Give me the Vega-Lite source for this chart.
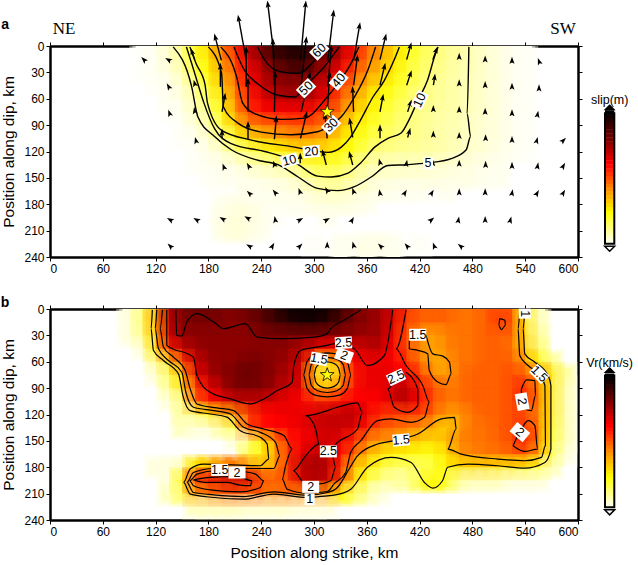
{"$schema":"https://vega.github.io/schema/vega-lite/v6.json","background":"white","padding":{"left":0,"top":0,"right":0,"bottom":0},"bounds":"flush","columns":2,"spacing":{"row":52,"column":27},"resolve":{"scale":{"color":"independent"}},"config":{"font":"Liberation Sans","view":{"stroke":null},"axis":{"labelFont":"Liberation Sans","titleFont":"Liberation Sans","labelFontSize":12,"titleFontSize":15.5,"titleFontWeight":"normal","labelColor":"#000","titleColor":"#000","tickColor":"#000","domainColor":"#000","grid":false,"tickSize":4,"tickWidth":1,"domainWidth":2.5,"labelPadding":2,"zindex":1}},
"datasets":{
"slip":[
{"x":105,"y":0,"v":0.3},{"x":120,"y":0,"v":1},{"x":135,"y":0,"v":3},{"x":150,"y":0,"v":7},{"x":165,"y":0,"v":14},{"x":180,"y":0,"v":20},{"x":195,"y":0,"v":30},{"x":210,"y":0,"v":38},{"x":225,"y":0,"v":46},{"x":240,"y":0,"v":55},{"x":255,"y":0,"v":62},{"x":270,"y":0,"v":66},{"x":285,"y":0,"v":66},{"x":300,"y":0,"v":64},{"x":315,"y":0,"v":58},{"x":330,"y":0,"v":50},{"x":345,"y":0,"v":42},{"x":360,"y":0,"v":33},{"x":375,"y":0,"v":27},{"x":390,"y":0,"v":21},{"x":405,"y":0,"v":15},{"x":420,"y":0,"v":12},{"x":435,"y":0,"v":9},{"x":450,"y":0,"v":7},{"x":465,"y":0,"v":6},{"x":480,"y":0,"v":4.5},{"x":495,"y":0,"v":3},{"x":510,"y":0,"v":2},{"x":525,"y":0,"v":1},{"x":540,"y":0,"v":0.5},
{"x":105,"y":15,"v":0.3},{"x":120,"y":15,"v":1},{"x":135,"y":15,"v":3},{"x":150,"y":15,"v":6},{"x":165,"y":15,"v":13},{"x":180,"y":15,"v":18},{"x":195,"y":15,"v":27},{"x":210,"y":15,"v":35},{"x":225,"y":15,"v":43},{"x":240,"y":15,"v":52},{"x":255,"y":15,"v":58},{"x":270,"y":15,"v":62},{"x":285,"y":15,"v":62},{"x":300,"y":15,"v":58},{"x":315,"y":15,"v":52},{"x":330,"y":15,"v":47},{"x":345,"y":15,"v":39},{"x":360,"y":15,"v":31},{"x":375,"y":15,"v":26},{"x":390,"y":15,"v":20},{"x":405,"y":15,"v":15},{"x":420,"y":15,"v":11},{"x":435,"y":15,"v":9},{"x":450,"y":15,"v":7},{"x":465,"y":15,"v":5.5},{"x":480,"y":15,"v":4.5},{"x":495,"y":15,"v":3},{"x":510,"y":15,"v":2},{"x":525,"y":15,"v":1},{"x":540,"y":15,"v":0.5},
{"x":105,"y":30,"v":0.3},{"x":120,"y":30,"v":1},{"x":135,"y":30,"v":2},{"x":150,"y":30,"v":5},{"x":165,"y":30,"v":11},{"x":180,"y":30,"v":16},{"x":195,"y":30,"v":24},{"x":210,"y":30,"v":32},{"x":225,"y":30,"v":41},{"x":240,"y":30,"v":47},{"x":255,"y":30,"v":53},{"x":270,"y":30,"v":57},{"x":285,"y":30,"v":59},{"x":300,"y":30,"v":54},{"x":315,"y":30,"v":49},{"x":330,"y":30,"v":42},{"x":345,"y":30,"v":35},{"x":360,"y":30,"v":28},{"x":375,"y":30,"v":23},{"x":390,"y":30,"v":18},{"x":405,"y":30,"v":13},{"x":420,"y":30,"v":10},{"x":435,"y":30,"v":8},{"x":450,"y":30,"v":6.5},{"x":465,"y":30,"v":5},{"x":480,"y":30,"v":4.5},{"x":495,"y":30,"v":3},{"x":510,"y":30,"v":2},{"x":525,"y":30,"v":1},{"x":540,"y":30,"v":0.5},
{"x":120,"y":45,"v":0.5},{"x":135,"y":45,"v":1},{"x":150,"y":45,"v":3},{"x":165,"y":45,"v":7},{"x":180,"y":45,"v":13},{"x":195,"y":45,"v":21},{"x":210,"y":45,"v":30},{"x":225,"y":45,"v":40},{"x":240,"y":45,"v":46},{"x":255,"y":45,"v":50},{"x":270,"y":45,"v":52},{"x":285,"y":45,"v":50},{"x":300,"y":45,"v":49},{"x":315,"y":45,"v":44},{"x":330,"y":45,"v":37},{"x":345,"y":45,"v":30},{"x":360,"y":45,"v":24},{"x":375,"y":45,"v":19},{"x":390,"y":45,"v":15},{"x":405,"y":45,"v":12},{"x":420,"y":45,"v":9},{"x":435,"y":45,"v":7},{"x":450,"y":45,"v":6},{"x":465,"y":45,"v":5},{"x":480,"y":45,"v":4},{"x":495,"y":45,"v":3},{"x":510,"y":45,"v":2},{"x":525,"y":45,"v":1},{"x":540,"y":45,"v":0.5},
{"x":135,"y":60,"v":1},{"x":150,"y":60,"v":2},{"x":165,"y":60,"v":5},{"x":180,"y":60,"v":10},{"x":195,"y":60,"v":18},{"x":210,"y":60,"v":28},{"x":225,"y":60,"v":37},{"x":240,"y":60,"v":43},{"x":255,"y":60,"v":48},{"x":270,"y":60,"v":50},{"x":285,"y":60,"v":50},{"x":300,"y":60,"v":48},{"x":315,"y":60,"v":42},{"x":330,"y":60,"v":33},{"x":345,"y":60,"v":27},{"x":360,"y":60,"v":20},{"x":375,"y":60,"v":16},{"x":390,"y":60,"v":13},{"x":405,"y":60,"v":10},{"x":420,"y":60,"v":8},{"x":435,"y":60,"v":7},{"x":450,"y":60,"v":6},{"x":465,"y":60,"v":5},{"x":480,"y":60,"v":4},{"x":495,"y":60,"v":3},{"x":510,"y":60,"v":2},{"x":525,"y":60,"v":1},{"x":540,"y":60,"v":0.5},
{"x":135,"y":75,"v":0.5},{"x":150,"y":75,"v":1},{"x":165,"y":75,"v":4},{"x":180,"y":75,"v":7},{"x":195,"y":75,"v":15},{"x":210,"y":75,"v":25},{"x":225,"y":75,"v":36},{"x":240,"y":75,"v":40},{"x":255,"y":75,"v":41},{"x":270,"y":75,"v":41},{"x":285,"y":75,"v":41},{"x":300,"y":75,"v":39},{"x":315,"y":75,"v":37},{"x":330,"y":75,"v":30},{"x":345,"y":75,"v":23},{"x":360,"y":75,"v":18},{"x":375,"y":75,"v":14},{"x":390,"y":75,"v":11},{"x":405,"y":75,"v":9},{"x":420,"y":75,"v":7.5},{"x":435,"y":75,"v":6.5},{"x":450,"y":75,"v":5.5},{"x":465,"y":75,"v":5},{"x":480,"y":75,"v":4},{"x":495,"y":75,"v":3},{"x":510,"y":75,"v":2},{"x":525,"y":75,"v":1},{"x":540,"y":75,"v":0.5},
{"x":150,"y":90,"v":0.5},{"x":165,"y":90,"v":3},{"x":180,"y":90,"v":5},{"x":195,"y":90,"v":12},{"x":210,"y":90,"v":21},{"x":225,"y":90,"v":28},{"x":240,"y":90,"v":31},{"x":255,"y":90,"v":32},{"x":270,"y":90,"v":33},{"x":285,"y":90,"v":34},{"x":300,"y":90,"v":33},{"x":315,"y":90,"v":30},{"x":330,"y":90,"v":25},{"x":345,"y":90,"v":19},{"x":360,"y":90,"v":15},{"x":375,"y":90,"v":12},{"x":390,"y":90,"v":10},{"x":405,"y":90,"v":8},{"x":420,"y":90,"v":7},{"x":435,"y":90,"v":6},{"x":450,"y":90,"v":5},{"x":465,"y":90,"v":4.5},{"x":480,"y":90,"v":3.5},{"x":495,"y":90,"v":2.5},{"x":510,"y":90,"v":2},{"x":525,"y":90,"v":1},{"x":540,"y":90,"v":0.5},
{"x":150,"y":105,"v":0.5},{"x":165,"y":105,"v":1},{"x":180,"y":105,"v":3},{"x":195,"y":105,"v":7},{"x":210,"y":105,"v":13},{"x":225,"y":105,"v":20},{"x":240,"y":105,"v":23},{"x":255,"y":105,"v":25},{"x":270,"y":105,"v":27},{"x":285,"y":105,"v":28},{"x":300,"y":105,"v":27},{"x":315,"y":105,"v":25},{"x":330,"y":105,"v":20},{"x":345,"y":105,"v":16},{"x":360,"y":105,"v":13},{"x":375,"y":105,"v":10},{"x":390,"y":105,"v":9},{"x":405,"y":105,"v":8},{"x":420,"y":105,"v":7},{"x":435,"y":105,"v":6},{"x":450,"y":105,"v":5},{"x":465,"y":105,"v":4.5},{"x":480,"y":105,"v":3.5},{"x":495,"y":105,"v":2.5},{"x":510,"y":105,"v":2},{"x":525,"y":105,"v":1},{"x":540,"y":105,"v":0.5},
{"x":165,"y":120,"v":0.5},{"x":180,"y":120,"v":1.5},{"x":195,"y":120,"v":3},{"x":210,"y":120,"v":7},{"x":225,"y":120,"v":10},{"x":240,"y":120,"v":13},{"x":255,"y":120,"v":16},{"x":270,"y":120,"v":18},{"x":285,"y":120,"v":20},{"x":300,"y":120,"v":20},{"x":315,"y":120,"v":19},{"x":330,"y":120,"v":17},{"x":345,"y":120,"v":14},{"x":360,"y":120,"v":10},{"x":375,"y":120,"v":8},{"x":390,"y":120,"v":7},{"x":405,"y":120,"v":6.5},{"x":420,"y":120,"v":6},{"x":435,"y":120,"v":5.5},{"x":450,"y":120,"v":5},{"x":465,"y":120,"v":4},{"x":480,"y":120,"v":3},{"x":495,"y":120,"v":2.5},{"x":510,"y":120,"v":1.5},{"x":525,"y":120,"v":1},{"x":540,"y":120,"v":0.5},
{"x":165,"y":135,"v":0.5},{"x":180,"y":135,"v":1},{"x":195,"y":135,"v":1.5},{"x":210,"y":135,"v":2},{"x":225,"y":135,"v":4},{"x":240,"y":135,"v":5},{"x":255,"y":135,"v":6},{"x":270,"y":135,"v":8},{"x":285,"y":135,"v":10},{"x":300,"y":135,"v":13},{"x":315,"y":135,"v":13},{"x":330,"y":135,"v":12},{"x":345,"y":135,"v":9},{"x":360,"y":135,"v":6},{"x":375,"y":135,"v":4.5},{"x":390,"y":135,"v":4},{"x":405,"y":135,"v":4},{"x":420,"y":135,"v":4},{"x":435,"y":135,"v":4},{"x":450,"y":135,"v":3},{"x":465,"y":135,"v":2.5},{"x":480,"y":135,"v":2},{"x":495,"y":135,"v":1.5},{"x":510,"y":135,"v":1},
{"x":180,"y":150,"v":0.5},{"x":195,"y":150,"v":1},{"x":210,"y":150,"v":1},{"x":225,"y":150,"v":1.5},{"x":240,"y":150,"v":2},{"x":255,"y":150,"v":2.5},{"x":270,"y":150,"v":3},{"x":285,"y":150,"v":5},{"x":300,"y":150,"v":7},{"x":315,"y":150,"v":9},{"x":330,"y":150,"v":8},{"x":345,"y":150,"v":6},{"x":360,"y":150,"v":4},{"x":375,"y":150,"v":3},{"x":390,"y":150,"v":3},{"x":405,"y":150,"v":2.5},{"x":420,"y":150,"v":2.5},{"x":435,"y":150,"v":2},{"x":450,"y":150,"v":2},{"x":465,"y":150,"v":1.5},{"x":480,"y":150,"v":1.5},{"x":495,"y":150,"v":1},{"x":510,"y":150,"v":1},
{"x":225,"y":165,"v":1},{"x":240,"y":165,"v":1},{"x":255,"y":165,"v":1.5},{"x":270,"y":165,"v":1.5},{"x":285,"y":165,"v":2.5},{"x":300,"y":165,"v":4},{"x":315,"y":165,"v":5},{"x":330,"y":165,"v":5},{"x":345,"y":165,"v":4},{"x":360,"y":165,"v":2.5},{"x":375,"y":165,"v":1.5},{"x":390,"y":165,"v":1},{"x":405,"y":165,"v":1},{"x":420,"y":165,"v":1},{"x":450,"y":165,"v":1},
{"x":195,"y":180,"v":1},{"x":210,"y":180,"v":1.5},{"x":225,"y":180,"v":1.5},{"x":240,"y":180,"v":1},{"x":255,"y":180,"v":1},{"x":270,"y":180,"v":1},{"x":285,"y":180,"v":1},{"x":300,"y":180,"v":1.5},{"x":315,"y":180,"v":2},{"x":330,"y":180,"v":2},{"x":345,"y":180,"v":1.5},{"x":360,"y":180,"v":1},
{"x":195,"y":195,"v":1.5},{"x":210,"y":195,"v":2.5},{"x":225,"y":195,"v":2.5},{"x":240,"y":195,"v":1.5},{"x":255,"y":195,"v":0.5},{"x":315,"y":195,"v":1},
{"x":195,"y":210,"v":1.5},{"x":210,"y":210,"v":2.5},{"x":225,"y":210,"v":2},{"x":240,"y":210,"v":1},{"x":300,"y":225,"v":0.5},{"x":330,"y":225,"v":1},{"x":345,"y":225,"v":1},{"x":360,"y":225,"v":1.5},{"x":375,"y":225,"v":1.5},{"x":390,"y":225,"v":1},{"x":420,"y":225,"v":0.5},{"x":330,"y":240,"v":1},{"x":360,"y":240,"v":1.5},{"x":390,"y":240,"v":1}
],
"vr":[
{"x":90,"y":0,"v":0.1},{"x":105,"y":0,"v":0.4},{"x":120,"y":0,"v":1.3},{"x":135,"y":0,"v":2.7},{"x":150,"y":0,"v":3},{"x":165,"y":0,"v":3.1},{"x":180,"y":0,"v":3.1},{"x":195,"y":0,"v":3},{"x":210,"y":0,"v":3},{"x":225,"y":0,"v":3.1},{"x":240,"y":0,"v":3.2},{"x":255,"y":0,"v":3.4},{"x":270,"y":0,"v":3.6},{"x":285,"y":0,"v":3.7},{"x":300,"y":0,"v":3.7},{"x":315,"y":0,"v":3.7},{"x":330,"y":0,"v":3.4},{"x":345,"y":0,"v":3.1},{"x":360,"y":0,"v":2.9},{"x":375,"y":0,"v":2.8},{"x":390,"y":0,"v":2.5},{"x":405,"y":0,"v":2.1},{"x":420,"y":0,"v":1.8},{"x":435,"y":0,"v":1.8},{"x":450,"y":0,"v":1.8},{"x":465,"y":0,"v":1.7},{"x":480,"y":0,"v":1.7},{"x":495,"y":0,"v":1.8},{"x":510,"y":0,"v":1.9},{"x":525,"y":0,"v":1.8},{"x":540,"y":0,"v":1},{"x":555,"y":0,"v":0.2},
{"x":90,"y":15,"v":0.1},{"x":105,"y":15,"v":0.5},{"x":120,"y":15,"v":1.3},{"x":135,"y":15,"v":2.6},{"x":150,"y":15,"v":2.9},{"x":165,"y":15,"v":3},{"x":180,"y":15,"v":3},{"x":195,"y":15,"v":3},{"x":210,"y":15,"v":2.9},{"x":225,"y":15,"v":3},{"x":240,"y":15,"v":3.1},{"x":255,"y":15,"v":3.3},{"x":270,"y":15,"v":3.4},{"x":285,"y":15,"v":3.5},{"x":300,"y":15,"v":3.5},{"x":315,"y":15,"v":3.4},{"x":330,"y":15,"v":3.2},{"x":345,"y":15,"v":3},{"x":360,"y":15,"v":2.9},{"x":375,"y":15,"v":2.8},{"x":390,"y":15,"v":2.5},{"x":405,"y":15,"v":2},{"x":420,"y":15,"v":1.8},{"x":435,"y":15,"v":1.8},{"x":450,"y":15,"v":1.8},{"x":465,"y":15,"v":1.7},{"x":480,"y":15,"v":1.7},{"x":495,"y":15,"v":1.8},{"x":510,"y":15,"v":2},{"x":525,"y":15,"v":1.9},{"x":540,"y":15,"v":1},{"x":555,"y":15,"v":0.2},
{"x":90,"y":30,"v":0.1},{"x":105,"y":30,"v":0.4},{"x":120,"y":30,"v":1.2},{"x":135,"y":30,"v":2.5},{"x":150,"y":30,"v":2.9},{"x":165,"y":30,"v":2.9},{"x":180,"y":30,"v":2.9},{"x":195,"y":30,"v":2.9},{"x":210,"y":30,"v":2.9},{"x":225,"y":30,"v":2.9},{"x":240,"y":30,"v":3},{"x":255,"y":30,"v":3},{"x":270,"y":30,"v":3},{"x":285,"y":30,"v":3},{"x":300,"y":30,"v":3},{"x":315,"y":30,"v":3},{"x":330,"y":30,"v":2.9},{"x":345,"y":30,"v":2.9},{"x":360,"y":30,"v":2.8},{"x":375,"y":30,"v":2.8},{"x":390,"y":30,"v":2.4},{"x":405,"y":30,"v":1.9},{"x":420,"y":30,"v":1.6},{"x":435,"y":30,"v":1.4},{"x":450,"y":30,"v":1.6},{"x":465,"y":30,"v":1.7},{"x":480,"y":30,"v":1.7},{"x":495,"y":30,"v":1.8},{"x":510,"y":30,"v":1.8},{"x":525,"y":30,"v":1.8},{"x":540,"y":30,"v":1.1},{"x":555,"y":30,"v":0.3},
{"x":105,"y":45,"v":0.1},{"x":120,"y":45,"v":1},{"x":135,"y":45,"v":2.1},{"x":150,"y":45,"v":2.6},{"x":165,"y":45,"v":2.8},{"x":180,"y":45,"v":2.9},{"x":195,"y":45,"v":2.9},{"x":210,"y":45,"v":2.9},{"x":225,"y":45,"v":2.9},{"x":240,"y":45,"v":2.9},{"x":255,"y":45,"v":2.9},{"x":270,"y":45,"v":2.9},{"x":285,"y":45,"v":2.7},{"x":300,"y":45,"v":2.5},{"x":315,"y":45,"v":2.3},{"x":330,"y":45,"v":2.4},{"x":345,"y":45,"v":2.5},{"x":360,"y":45,"v":2.6},{"x":375,"y":45,"v":2.7},{"x":390,"y":45,"v":2.3},{"x":405,"y":45,"v":1.9},{"x":420,"y":45,"v":1.6},{"x":435,"y":45,"v":1.4},{"x":450,"y":45,"v":1.6},{"x":465,"y":45,"v":1.7},{"x":480,"y":45,"v":1.7},{"x":495,"y":45,"v":1.8},{"x":510,"y":45,"v":1.8},{"x":525,"y":45,"v":1.7},{"x":540,"y":45,"v":1.2},{"x":555,"y":45,"v":0.4},
{"x":120,"y":60,"v":0.3},{"x":135,"y":60,"v":1.1},{"x":150,"y":60,"v":1.9},{"x":165,"y":60,"v":2.5},{"x":180,"y":60,"v":2.8},{"x":195,"y":60,"v":2.9},{"x":210,"y":60,"v":2.9},{"x":225,"y":60,"v":3},{"x":240,"y":60,"v":3},{"x":255,"y":60,"v":2.9},{"x":270,"y":60,"v":2.8},{"x":285,"y":60,"v":2.6},{"x":300,"y":60,"v":1.9},{"x":315,"y":60,"v":0.9},{"x":330,"y":60,"v":1.7},{"x":345,"y":60,"v":2.3},{"x":360,"y":60,"v":2.4},{"x":375,"y":60,"v":2.4},{"x":390,"y":60,"v":2.3},{"x":405,"y":60,"v":2.1},{"x":420,"y":60,"v":1.7},{"x":435,"y":60,"v":1.4},{"x":450,"y":60,"v":1.4},{"x":465,"y":60,"v":1.7},{"x":480,"y":60,"v":1.7},{"x":495,"y":60,"v":1.8},{"x":510,"y":60,"v":1.8},{"x":525,"y":60,"v":1.8},{"x":540,"y":60,"v":1.5},{"x":555,"y":60,"v":0.9},{"x":570,"y":60,"v":0.3},
{"x":120,"y":75,"v":0.1},{"x":135,"y":75,"v":0.5},{"x":150,"y":75,"v":1.1},{"x":165,"y":75,"v":2.4},{"x":180,"y":75,"v":2.7},{"x":195,"y":75,"v":2.9},{"x":210,"y":75,"v":3},{"x":225,"y":75,"v":3.1},{"x":240,"y":75,"v":3},{"x":255,"y":75,"v":2.9},{"x":270,"y":75,"v":2.7},{"x":285,"y":75,"v":2.5},{"x":300,"y":75,"v":1.2},{"x":315,"y":75,"v":0.6},{"x":330,"y":75,"v":1.2},{"x":345,"y":75,"v":2.1},{"x":360,"y":75,"v":2.4},{"x":375,"y":75,"v":2.4},{"x":390,"y":75,"v":2.4},{"x":405,"y":75,"v":2.3},{"x":420,"y":75,"v":2},{"x":435,"y":75,"v":1.6},{"x":450,"y":75,"v":1.4},{"x":465,"y":75,"v":1.7},{"x":480,"y":75,"v":1.8},{"x":495,"y":75,"v":1.8},{"x":510,"y":75,"v":1.8},{"x":525,"y":75,"v":1.9},{"x":540,"y":75,"v":1.8},{"x":555,"y":75,"v":1.6},{"x":570,"y":75,"v":1},{"x":585,"y":75,"v":0.3},
{"x":135,"y":90,"v":0.3},{"x":150,"y":90,"v":1},{"x":165,"y":90,"v":1.9},{"x":180,"y":90,"v":2.4},{"x":195,"y":90,"v":2.7},{"x":210,"y":90,"v":3},{"x":225,"y":90,"v":3},{"x":240,"y":90,"v":3},{"x":255,"y":90,"v":2.8},{"x":270,"y":90,"v":2.6},{"x":285,"y":90,"v":2.5},{"x":300,"y":90,"v":1.6},{"x":315,"y":90,"v":1.1},{"x":330,"y":90,"v":1.6},{"x":345,"y":90,"v":2.2},{"x":360,"y":90,"v":2.4},{"x":375,"y":90,"v":2.4},{"x":390,"y":90,"v":2.5},{"x":405,"y":90,"v":2.7},{"x":420,"y":90,"v":2.2},{"x":435,"y":90,"v":1.9},{"x":450,"y":90,"v":1.7},{"x":465,"y":90,"v":1.7},{"x":480,"y":90,"v":1.8},{"x":495,"y":90,"v":1.8},{"x":510,"y":90,"v":1.8},{"x":525,"y":90,"v":1.9},{"x":540,"y":90,"v":2.1},{"x":555,"y":90,"v":1.6},{"x":570,"y":90,"v":1},{"x":585,"y":90,"v":0.2},
{"x":135,"y":105,"v":0.1},{"x":150,"y":105,"v":0.4},{"x":165,"y":105,"v":1.7},{"x":180,"y":105,"v":2.2},{"x":195,"y":105,"v":2.4},{"x":210,"y":105,"v":2.6},{"x":225,"y":105,"v":2.6},{"x":240,"y":105,"v":2.6},{"x":255,"y":105,"v":2.5},{"x":270,"y":105,"v":2.4},{"x":285,"y":105,"v":2.3},{"x":300,"y":105,"v":2.1},{"x":315,"y":105,"v":2.1},{"x":330,"y":105,"v":2.2},{"x":345,"y":105,"v":2.3},{"x":360,"y":105,"v":2.3},{"x":375,"y":105,"v":2.3},{"x":390,"y":105,"v":2.5},{"x":405,"y":105,"v":2.7},{"x":420,"y":105,"v":2.3},{"x":435,"y":105,"v":1.9},{"x":450,"y":105,"v":1.7},{"x":465,"y":105,"v":1.7},{"x":480,"y":105,"v":1.8},{"x":495,"y":105,"v":1.8},{"x":510,"y":105,"v":1.8},{"x":525,"y":105,"v":1.9},{"x":540,"y":105,"v":2.1},{"x":555,"y":105,"v":1.7},{"x":570,"y":105,"v":1},{"x":585,"y":105,"v":0.2},
{"x":150,"y":120,"v":0.3},{"x":165,"y":120,"v":0.5},{"x":180,"y":120,"v":0.9},{"x":195,"y":120,"v":1.3},{"x":210,"y":120,"v":1.5},{"x":225,"y":120,"v":1.9},{"x":240,"y":120,"v":2.2},{"x":255,"y":120,"v":2.3},{"x":270,"y":120,"v":2.4},{"x":285,"y":120,"v":2.4},{"x":300,"y":120,"v":2.5},{"x":315,"y":120,"v":2.6},{"x":330,"y":120,"v":2.6},{"x":345,"y":120,"v":2.7},{"x":360,"y":120,"v":2.4},{"x":375,"y":120,"v":2.1},{"x":390,"y":120,"v":2},{"x":405,"y":120,"v":2},{"x":420,"y":120,"v":2},{"x":435,"y":120,"v":1.8},{"x":450,"y":120,"v":1.5},{"x":465,"y":120,"v":1.5},{"x":480,"y":120,"v":1.7},{"x":495,"y":120,"v":1.8},{"x":510,"y":120,"v":1.8},{"x":525,"y":120,"v":1.9},{"x":540,"y":120,"v":1.9},{"x":555,"y":120,"v":1.6},{"x":570,"y":120,"v":1},{"x":585,"y":120,"v":0.2},
{"x":150,"y":135,"v":0.2},{"x":165,"y":135,"v":0.1},{"x":180,"y":135,"v":0.1},{"x":195,"y":135,"v":0.3},{"x":210,"y":135,"v":0.6},{"x":225,"y":135,"v":1.9},{"x":240,"y":135,"v":2.2},{"x":255,"y":135,"v":2.3},{"x":270,"y":135,"v":2.3},{"x":285,"y":135,"v":2.4},{"x":300,"y":135,"v":2.5},{"x":315,"y":135,"v":2.6},{"x":330,"y":135,"v":2.6},{"x":345,"y":135,"v":2.5},{"x":360,"y":135,"v":2.2},{"x":375,"y":135,"v":1.9},{"x":390,"y":135,"v":1.8},{"x":405,"y":135,"v":1.7},{"x":420,"y":135,"v":1.6},{"x":435,"y":135,"v":1.4},{"x":450,"y":135,"v":1.1},{"x":465,"y":135,"v":1.4},{"x":480,"y":135,"v":1.7},{"x":495,"y":135,"v":1.7},{"x":510,"y":135,"v":1.8},{"x":525,"y":135,"v":1.9},{"x":540,"y":135,"v":2.05},{"x":555,"y":135,"v":1.7},{"x":570,"y":135,"v":0.9},{"x":585,"y":135,"v":0.2},
{"x":210,"y":150,"v":0.1},{"x":225,"y":150,"v":0.3},{"x":240,"y":150,"v":1},{"x":255,"y":150,"v":1.5},{"x":270,"y":150,"v":2.1},{"x":285,"y":150,"v":2.3},{"x":300,"y":150,"v":2.4},{"x":315,"y":150,"v":2.55},{"x":330,"y":150,"v":2.45},{"x":345,"y":150,"v":2.1},{"x":360,"y":150,"v":1.7},{"x":375,"y":150,"v":1.5},{"x":390,"y":150,"v":1.5},{"x":405,"y":150,"v":1.3},{"x":420,"y":150,"v":1.2},{"x":435,"y":150,"v":1.1},{"x":450,"y":150,"v":1.3},{"x":465,"y":150,"v":1.6},{"x":480,"y":150,"v":1.7},{"x":495,"y":150,"v":1.7},{"x":510,"y":150,"v":1.8},{"x":525,"y":150,"v":1.9},{"x":540,"y":150,"v":2.2},{"x":555,"y":150,"v":1.7},{"x":570,"y":150,"v":0.8},{"x":585,"y":150,"v":0.2},
{"x":225,"y":165,"v":0.5},{"x":240,"y":165,"v":0.8},{"x":255,"y":165,"v":1.3},{"x":270,"y":165,"v":2},{"x":285,"y":165,"v":2.4},{"x":300,"y":165,"v":2.6},{"x":315,"y":165,"v":2.6},{"x":330,"y":165,"v":2.3},{"x":345,"y":165,"v":1.9},{"x":360,"y":165,"v":1.4},{"x":375,"y":165,"v":1.1},{"x":390,"y":165,"v":0.9},{"x":405,"y":165,"v":0.9},{"x":420,"y":165,"v":0.8},{"x":435,"y":165,"v":0.8},{"x":450,"y":165,"v":1},{"x":465,"y":165,"v":1.5},{"x":480,"y":165,"v":1.6},{"x":495,"y":165,"v":1.7},{"x":510,"y":165,"v":1.7},{"x":525,"y":165,"v":1.8},{"x":540,"y":165,"v":1.9},{"x":555,"y":165,"v":1.5},{"x":570,"y":165,"v":0.7},{"x":585,"y":165,"v":0.1},
{"x":120,"y":180,"v":0.1},{"x":135,"y":180,"v":0.1},{"x":150,"y":180,"v":0.2},{"x":165,"y":180,"v":1},{"x":180,"y":180,"v":1.2},{"x":195,"y":180,"v":1.5},{"x":210,"y":180,"v":1.7},{"x":225,"y":180,"v":1.6},{"x":240,"y":180,"v":1.3},{"x":255,"y":180,"v":1.4},{"x":270,"y":180,"v":2},{"x":285,"y":180,"v":2.6},{"x":300,"y":180,"v":2.8},{"x":315,"y":180,"v":2.7},{"x":330,"y":180,"v":2.1},{"x":345,"y":180,"v":1.3},{"x":360,"y":180,"v":1},{"x":375,"y":180,"v":0.7},{"x":390,"y":180,"v":0.5},{"x":405,"y":180,"v":0.5},{"x":420,"y":180,"v":0.5},{"x":435,"y":180,"v":0.6},{"x":450,"y":180,"v":0.9},{"x":465,"y":180,"v":1.05},{"x":480,"y":180,"v":1.1},{"x":495,"y":180,"v":1.1},{"x":510,"y":180,"v":1.05},{"x":525,"y":180,"v":1},{"x":540,"y":180,"v":0.9},{"x":555,"y":180,"v":0.7},{"x":570,"y":180,"v":0.2},
{"x":135,"y":195,"v":0.1},{"x":150,"y":195,"v":0.9},{"x":165,"y":195,"v":2.1},{"x":180,"y":195,"v":2.4},{"x":195,"y":195,"v":2.5},{"x":210,"y":195,"v":2.6},{"x":225,"y":195,"v":2.6},{"x":240,"y":195,"v":2},{"x":255,"y":195,"v":1.8},{"x":270,"y":195,"v":1.9},{"x":285,"y":195,"v":2.5},{"x":300,"y":195,"v":2.7},{"x":315,"y":195,"v":2.6},{"x":330,"y":195,"v":2},{"x":345,"y":195,"v":1.2},{"x":360,"y":195,"v":0.7},{"x":375,"y":195,"v":0.4},{"x":390,"y":195,"v":0.3},{"x":405,"y":195,"v":0.3},{"x":420,"y":195,"v":0.6},{"x":435,"y":195,"v":0.9},{"x":450,"y":195,"v":0.7},{"x":465,"y":195,"v":0.3},{"x":480,"y":195,"v":0.2},{"x":495,"y":195,"v":0.2},{"x":510,"y":195,"v":0.2},{"x":525,"y":195,"v":0.1},{"x":540,"y":195,"v":0.1},{"x":555,"y":195,"v":0.1},
{"x":135,"y":210,"v":0.2},{"x":150,"y":210,"v":0.5},{"x":165,"y":210,"v":1.4},{"x":180,"y":210,"v":1.6},{"x":195,"y":210,"v":1.8},{"x":210,"y":210,"v":1.9},{"x":225,"y":210,"v":1.8},{"x":240,"y":210,"v":1.8},{"x":255,"y":210,"v":1.6},{"x":270,"y":210,"v":1.8},{"x":285,"y":210,"v":1.6},{"x":300,"y":210,"v":1.5},{"x":315,"y":210,"v":1.5},{"x":330,"y":210,"v":0.9},{"x":345,"y":210,"v":0.5},{"x":360,"y":210,"v":0.3},{"x":375,"y":210,"v":0.1},
{"x":165,"y":225,"v":0.2},{"x":180,"y":225,"v":0.2},{"x":195,"y":225,"v":0.2},{"x":210,"y":225,"v":0.2},{"x":225,"y":225,"v":0.15},{"x":240,"y":225,"v":0.15},{"x":255,"y":225,"v":0.15},{"x":270,"y":225,"v":0.15},{"x":285,"y":225,"v":0.1},{"x":300,"y":225,"v":0.1},{"x":315,"y":225,"v":0.1}
],
"lineA":[
{"c":"5","i":0,"x":140,"y":1},{"c":"5","i":1,"x":161,"y":46.5},{"c":"5","i":2,"x":168,"y":80.5},{"c":"5","i":3,"x":187,"y":103},{"c":"5","i":4,"x":206,"y":118},{"c":"5","i":5,"x":236,"y":130},{"c":"5","i":6,"x":259,"y":135},{"c":"5","i":7,"x":282,"y":149},{"c":"5","i":8,"x":304,"y":162},{"c":"5","i":9,"x":327,"y":164.5},{"c":"5","i":10,"x":346,"y":160},{"c":"5","i":11,"x":365,"y":149},{"c":"5","i":12,"x":384,"y":136},{"c":"5","i":13,"x":406,"y":135},{"c":"5","i":14,"x":429,"y":133},{"c":"5","i":15,"x":456,"y":128},{"c":"5","i":16,"x":473,"y":118},{"c":"5","i":17,"x":478,"y":103},{"c":"5","i":18,"x":474,"y":77},{"c":"5","i":19,"x":476,"y":1},
{"c":"10","i":0,"x":155,"y":1},{"c":"10","i":1,"x":161,"y":20},{"c":"10","i":2,"x":169,"y":46},{"c":"10","i":3,"x":175,"y":65},{"c":"10","i":4,"x":187,"y":94},{"c":"10","i":5,"x":206,"y":111},{"c":"10","i":6,"x":244,"y":120},{"c":"10","i":7,"x":267,"y":127},{"c":"10","i":8,"x":282,"y":135},{"c":"10","i":9,"x":304,"y":148},{"c":"10","i":10,"x":320,"y":149},{"c":"10","i":11,"x":338,"y":145},{"c":"10","i":12,"x":353,"y":133},{"c":"10","i":13,"x":369,"y":115},{"c":"10","i":14,"x":384,"y":105},{"c":"10","i":15,"x":399,"y":99},{"c":"10","i":16,"x":408,"y":84},{"c":"10","i":17,"x":418,"y":62},{"c":"10","i":18,"x":429,"y":39},{"c":"10","i":19,"x":437,"y":12},{"c":"10","i":20,"x":441,"y":1},
{"c":"20","i":0,"x":159,"y":1},{"c":"20","i":1,"x":166,"y":20},{"c":"20","i":2,"x":176,"y":43},{"c":"20","i":3,"x":179,"y":65},{"c":"20","i":4,"x":195,"y":96},{"c":"20","i":5,"x":229,"y":107},{"c":"20","i":6,"x":278,"y":115},{"c":"20","i":7,"x":304,"y":120},{"c":"20","i":8,"x":316,"y":121},{"c":"20","i":9,"x":331,"y":115},{"c":"20","i":10,"x":342,"y":103},{"c":"20","i":11,"x":353,"y":84},{"c":"20","i":12,"x":367,"y":58},{"c":"20","i":13,"x":380,"y":39},{"c":"20","i":14,"x":391,"y":16},{"c":"20","i":15,"x":397,"y":1},
{"c":"30","i":0,"x":180,"y":1},{"c":"30","i":1,"x":195,"y":31},{"c":"30","i":2,"x":197,"y":69},{"c":"30","i":3,"x":214,"y":88},{"c":"30","i":4,"x":240,"y":98},{"c":"30","i":5,"x":274,"y":101},{"c":"30","i":6,"x":304,"y":97.5},{"c":"30","i":7,"x":319,"y":90},{"c":"30","i":8,"x":331,"y":80.5},{"c":"30","i":9,"x":346,"y":58},{"c":"30","i":10,"x":361,"y":28},{"c":"30","i":11,"x":370,"y":1},
{"c":"40","i":0,"x":194,"y":1},{"c":"40","i":1,"x":212,"y":35},{"c":"40","i":2,"x":219,"y":65},{"c":"40","i":3,"x":232.5,"y":77},{"c":"40","i":4,"x":263,"y":83.5},{"c":"40","i":5,"x":289,"y":82},{"c":"40","i":6,"x":315,"y":58},{"c":"40","i":7,"x":327,"y":42.7},{"c":"40","i":8,"x":342,"y":20},{"c":"40","i":9,"x":351,"y":1},
{"c":"50","i":0,"x":209,"y":1},{"c":"50","i":1,"x":221,"y":27.6},{"c":"50","i":2,"x":236,"y":43},{"c":"50","i":3,"x":259,"y":56},{"c":"50","i":4,"x":278,"y":58},{"c":"50","i":5,"x":292.6,"y":42.7},{"c":"50","i":6,"x":311.5,"y":23.8},{"c":"50","i":7,"x":328.6,"y":1},
{"c":"60","i":0,"x":236,"y":1},{"c":"60","i":1,"x":244,"y":16},{"c":"60","i":2,"x":263,"y":29.5},{"c":"60","i":3,"x":282,"y":31},{"c":"60","i":4,"x":301,"y":16},{"c":"60","i":5,"x":310,"y":5},{"c":"60","i":6,"x":314,"y":1}
],
"lineB":[
{"c":"1","i":0,"x":116.3,"y":1},{"c":"1","i":1,"x":114.8,"y":22.4},{"c":"1","i":2,"x":117.5,"y":47},{"c":"1","i":3,"x":128.9,"y":58.6},{"c":"1","i":4,"x":146,"y":73.8},{"c":"1","i":5,"x":151,"y":98.5},{"c":"1","i":6,"x":159.3,"y":115.6},{"c":"1","i":7,"x":182,"y":119.4},{"c":"1","i":8,"x":201,"y":123},{"c":"1","i":9,"x":216.3,"y":138.4},{"c":"1","i":10,"x":239,"y":146},{"c":"1","i":11,"x":246.8,"y":153.6},{"c":"1","i":12,"x":248.7,"y":170.7},{"c":"1","i":13,"x":239,"y":178.3},{"c":"1","i":14,"x":174.5,"y":176.4},{"c":"1","i":15,"x":159.3,"y":182},{"c":"1","i":16,"x":151.7,"y":197.3},{"c":"1","i":17,"x":159.3,"y":210.6},{"c":"1","i":18,"x":186,"y":214.4},{"c":"1","i":19,"x":220,"y":216.3},{"c":"1","i":20,"x":254.4,"y":210.6},{"c":"1","i":21,"x":292.4,"y":214.4},{"c":"1","i":22,"x":315.2,"y":212.5},{"c":"1","i":23,"x":322.8,"y":211.8},{"c":"1","i":24,"x":341.8,"y":205},{"c":"1","i":25,"x":360.8,"y":180},{"c":"1","i":26,"x":387.5,"y":168.8},{"c":"1","i":27,"x":410.3,"y":174.5},{"c":"1","i":28,"x":425.5,"y":197.3},{"c":"1","i":29,"x":435,"y":203.8},{"c":"1","i":30,"x":446,"y":195.4},{"c":"1","i":31,"x":452,"y":180},{"c":"1","i":32,"x":475,"y":176.4},{"c":"1","i":33,"x":509,"y":178.3},{"c":"1","i":34,"x":539.5,"y":181},{"c":"1","i":35,"x":562.4,"y":174.5},{"c":"1","i":36,"x":569.2,"y":159.3},{"c":"1","i":37,"x":569.2,"y":87},{"c":"1","i":38,"x":566,"y":75.7},{"c":"1","i":39,"x":551,"y":60.5},{"c":"1","i":40,"x":539.5,"y":51},{"c":"1","i":41,"x":537.6,"y":22.4},{"c":"1","i":42,"x":539.5,"y":1},
{"c":"1.5","i":0,"x":121.3,"y":1},{"c":"1.5","i":1,"x":119.4,"y":22.4},{"c":"1.5","i":2,"x":123.2,"y":45},{"c":"1.5","i":3,"x":134.6,"y":58.6},{"c":"1.5","i":4,"x":149.8,"y":71.9},{"c":"1.5","i":5,"x":154.4,"y":94.7},{"c":"1.5","i":6,"x":163,"y":111.8},{"c":"1.5","i":7,"x":186,"y":115.6},{"c":"1.5","i":8,"x":205,"y":119.4},{"c":"1.5","i":9,"x":220,"y":134.6},{"c":"1.5","i":10,"x":239,"y":140.3},{"c":"1.5","i":11,"x":256.3,"y":151.7},{"c":"1.5","i":12,"x":261.2,"y":167},{"c":"1.5","i":13,"x":254.4,"y":181.4},{"c":"1.5","i":14,"x":186,"y":181.4},{"c":"1.5","i":15,"x":163,"y":186},{"c":"1.5","i":16,"x":155.5,"y":197.3},{"c":"1.5","i":17,"x":163,"y":208.7},{"c":"1.5","i":18,"x":186,"y":211.4},{"c":"1.5","i":19,"x":220,"y":213.3},{"c":"1.5","i":20,"x":254.4,"y":208},{"c":"1.5","i":21,"x":292.4,"y":211.8},{"c":"1.5","i":22,"x":315.2,"y":208.7},{"c":"1.5","i":23,"x":326.6,"y":203},{"c":"1.5","i":24,"x":339.9,"y":182},{"c":"1.5","i":25,"x":349.4,"y":167},{"c":"1.5","i":26,"x":372.2,"y":153.6},{"c":"1.5","i":27,"x":391.2,"y":149.8},{"c":"1.5","i":28,"x":417.9,"y":142.2},{"c":"1.5","i":29,"x":444.5,"y":125},{"c":"1.5","i":30,"x":459.7,"y":123.2},{"c":"1.5","i":31,"x":461.6,"y":136.5},{"c":"1.5","i":32,"x":452,"y":159.3},{"c":"1.5","i":33,"x":467.2,"y":165},{"c":"1.5","i":34,"x":509,"y":170.7},{"c":"1.5","i":35,"x":539.5,"y":172.6},{"c":"1.5","i":36,"x":558.5,"y":168.8},{"c":"1.5","i":37,"x":563,"y":155.5},{"c":"1.5","i":38,"x":562.4,"y":87},{"c":"1.5","i":39,"x":556.6,"y":75.7},{"c":"1.5","i":40,"x":543.3,"y":64.3},{"c":"1.5","i":41,"x":533.8,"y":52.9},{"c":"1.5","i":42,"x":531.9,"y":22.4},{"c":"1.5","i":43,"x":533.8,"y":1},
{"c":"1.5b","i":0,"x":427.4,"y":30},{"c":"1.5b","i":1,"x":435,"y":51},{"c":"1.5b","i":2,"x":446.4,"y":53.6},{"c":"1.5b","i":3,"x":454,"y":60.5},{"c":"1.5b","i":4,"x":456,"y":73.8},{"c":"1.5b","i":5,"x":450,"y":86},{"c":"1.5b","i":6,"x":441,"y":83.3},{"c":"1.5b","i":7,"x":431,"y":70},{"c":"1.5b","i":8,"x":429.2,"y":51},{"c":"1.5b","i":9,"x":417.9,"y":47},{"c":"1.5b","i":10,"x":408.3,"y":45.2},{"c":"1.5b","i":11,"x":408.3,"y":35.7},
{"c":"2","i":0,"x":127.8,"y":1},{"c":"2","i":1,"x":125,"y":22.4},{"c":"2","i":2,"x":128.9,"y":43.3},{"c":"2","i":3,"x":140.3,"y":54.8},{"c":"2","i":4,"x":153.6,"y":70},{"c":"2","i":5,"x":159.3,"y":90.9},{"c":"2","i":6,"x":167,"y":108},{"c":"2","i":7,"x":189.7,"y":112.5},{"c":"2","i":8,"x":208.7,"y":115.6},{"c":"2","i":9,"x":224,"y":130.8},{"c":"2","i":10,"x":243,"y":136.5},{"c":"2","i":11,"x":265.8,"y":144},{"c":"2","i":12,"x":275.3,"y":159.3},{"c":"2","i":13,"x":267.7,"y":178.3},{"c":"2","i":14,"x":263.9,"y":193.5},{"c":"2","i":15,"x":269.6,"y":205},{"c":"2","i":16,"x":292.4,"y":209.5},{"c":"2","i":17,"x":315.2,"y":207.6},{"c":"2","i":18,"x":322.8,"y":199},{"c":"2","i":19,"x":336,"y":186},{"c":"2","i":20,"x":341.8,"y":163},{"c":"2","i":21,"x":353.2,"y":149.8},{"c":"2","i":22,"x":372.2,"y":127},{"c":"2","i":23,"x":387.5,"y":125},{"c":"2","i":24,"x":410.3,"y":128.9},{"c":"2","i":25,"x":425.5,"y":123.2},{"c":"2","i":26,"x":431.2,"y":106},{"c":"2","i":27,"x":423.6,"y":87},{"c":"2","i":28,"x":404.6,"y":64.3},{"c":"2","i":29,"x":393.2,"y":45.2},{"c":"2","i":30,"x":404.6,"y":1},
{"c":"2l","i":0,"x":212.5,"y":184},{"c":"2l","i":1,"x":233.5,"y":187.8},{"c":"2l","i":2,"x":243,"y":195.4},{"c":"2l","i":3,"x":239,"y":203},{"c":"2l","i":4,"x":216.3,"y":208},{"c":"2l","i":5,"x":182,"y":205.7},{"c":"2l","i":6,"x":163,"y":201},{"c":"2l","i":7,"x":158.6,"y":195.4},{"c":"2l","i":8,"x":167,"y":187.8},{"c":"2l","i":9,"x":189.7,"y":184},{"c":"2l","i":10,"x":212.5,"y":184},
{"c":"2.5l","i":0,"x":163,"y":194.3},{"c":"2.5l","i":1,"x":182,"y":191.6},{"c":"2.5l","i":2,"x":212.5,"y":190.5},{"c":"2.5l","i":3,"x":229.7,"y":195.4},{"c":"2.5l","i":4,"x":227.8,"y":201},{"c":"2.5l","i":5,"x":216.3,"y":200.4},{"c":"2.5l","i":6,"x":201,"y":197.3},{"c":"2.5l","i":7,"x":178.3,"y":197.3},{"c":"2.5l","i":8,"x":163,"y":194.3},
{"c":"2.5","i":0,"x":132.7,"y":1},{"c":"2.5","i":1,"x":132.7,"y":41.4},{"c":"2.5","i":2,"x":163,"y":54.8},{"c":"2.5","i":3,"x":167,"y":75.7},{"c":"2.5","i":4,"x":182,"y":94.7},{"c":"2.5","i":5,"x":205,"y":102.3},{"c":"2.5","i":6,"x":227.8,"y":108},{"c":"2.5","i":7,"x":243,"y":102.3},{"c":"2.5","i":8,"x":258.2,"y":92.8},{"c":"2.5","i":9,"x":275.3,"y":83.3},{"c":"2.5","i":10,"x":277,"y":64.3},{"c":"2.5","i":11,"x":284.8,"y":47},{"c":"2.5","i":12,"x":315.2,"y":41.4},{"c":"2.5","i":13,"x":322.8,"y":39.5},{"c":"2.5","i":14,"x":345.6,"y":45.2},{"c":"2.5","i":15,"x":360.8,"y":64.3},{"c":"2.5","i":16,"x":380,"y":52.9},{"c":"2.5","i":17,"x":389.4,"y":1},
{"c":"3","i":0,"x":143,"y":1},{"c":"3","i":1,"x":144,"y":30},{"c":"3","i":2,"x":149.8,"y":30.8},{"c":"3","i":3,"x":155.5,"y":14.8},{"c":"3","i":4,"x":167,"y":5.3},{"c":"3","i":5,"x":186,"y":14.8},{"c":"3","i":6,"x":197.3,"y":22.4},{"c":"3","i":7,"x":222,"y":16.7},{"c":"3","i":8,"x":235.4,"y":32},{"c":"3","i":9,"x":262,"y":33.8},{"c":"3","i":10,"x":300,"y":32},{"c":"3","i":11,"x":315.2,"y":28},{"c":"3","i":12,"x":319,"y":22.4},{"c":"3","i":13,"x":334,"y":12.9},{"c":"3","i":14,"x":353.2,"y":1},
{"c":"2.5c","i":0,"x":315.2,"y":115.6},{"c":"2.5c","i":1,"x":326.6,"y":111.8},{"c":"2.5c","i":2,"x":349.4,"y":106.8},{"c":"2.5c","i":3,"x":355,"y":117.5},{"c":"2.5c","i":4,"x":349.4,"y":136.5},{"c":"2.5c","i":5,"x":326.6,"y":151.7},{"c":"2.5c","i":6,"x":319,"y":159.3},{"c":"2.5c","i":7,"x":324.7,"y":180},{"c":"2.5c","i":8,"x":319,"y":195.4},{"c":"2.5c","i":9,"x":303.8,"y":199.2},{"c":"2.5c","i":10,"x":288.6,"y":197.3},{"c":"2.5c","i":11,"x":276.4,"y":184},{"c":"2.5c","i":12,"x":290.5,"y":167},{"c":"2.5c","i":13,"x":305.7,"y":153.6},{"c":"2.5c","i":14,"x":301.9,"y":136.5},{"c":"2.5c","i":15,"x":290.5,"y":121.3},{"c":"2.5c","i":16,"x":315.2,"y":115.6},
{"c":"2.5d","i":0,"x":393.2,"y":77.6},{"c":"2.5d","i":1,"x":383.7,"y":91},{"c":"2.5d","i":2,"x":391.2,"y":111.8},{"c":"2.5d","i":3,"x":406.4,"y":117.5},{"c":"2.5d","i":4,"x":417.9,"y":109.9},{"c":"2.5d","i":5,"x":417.9,"y":91},{"c":"2.5d","i":6,"x":404.6,"y":71.9},
{"c":"2r1","i":0,"x":535.7,"y":91},{"c":"2r1","i":1,"x":541.5,"y":80.6},{"c":"2r1","i":2,"x":551,"y":81.4},{"c":"2r1","i":3,"x":551.7,"y":98.5},{"c":"2r1","i":4,"x":547,"y":115.6},{"c":"2r1","i":5,"x":539.5,"y":113.7},{"c":"2r1","i":6,"x":535.7,"y":102.3},{"c":"2r1","i":7,"x":535.7,"y":91},
{"c":"2r2","i":0,"x":526.2,"y":155.5},{"c":"2r2","i":1,"x":535.7,"y":136.5},{"c":"2r2","i":2,"x":543.3,"y":127},{"c":"2r2","i":3,"x":551,"y":132.7},{"c":"2r2","i":4,"x":554,"y":159.3},{"c":"2r2","i":5,"x":539.5,"y":162},{"c":"2r2","i":6,"x":526.2,"y":155.5},
{"c":"2s","i":0,"x":511,"y":11},{"c":"2s","i":1,"x":516.9,"y":12.9},{"c":"2s","i":2,"x":517.6,"y":18.6},{"c":"2s","i":3,"x":513,"y":23.6},{"c":"2s","i":4,"x":509.9,"y":18.6},{"c":"2s","i":5,"x":511,"y":11},
{"c":"r1","i":0,"x":315,"y":60},{"c":"r1","i":1,"x":323,"y":62},{"c":"r1","i":2,"x":328,"y":67},{"c":"r1","i":3,"x":330,"y":75},{"c":"r1","i":4,"x":328,"y":83},{"c":"r1","i":5,"x":323,"y":88},{"c":"r1","i":6,"x":315,"y":90},{"c":"r1","i":7,"x":307,"y":88},{"c":"r1","i":8,"x":302,"y":83},{"c":"r1","i":9,"x":300,"y":75},{"c":"r1","i":10,"x":302,"y":67},{"c":"r1","i":11,"x":307,"y":62},{"c":"r1","i":12,"x":315,"y":60},
{"c":"r2","i":0,"x":315,"y":55},{"c":"r2","i":1,"x":326,"y":57},{"c":"r2","i":2,"x":333,"y":63},{"c":"r2","i":3,"x":336,"y":75},{"c":"r2","i":4,"x":333,"y":87},{"c":"r2","i":5,"x":326,"y":93},{"c":"r2","i":6,"x":315,"y":95},{"c":"r2","i":7,"x":304,"y":93},{"c":"r2","i":8,"x":297,"y":87},{"c":"r2","i":9,"x":294,"y":75},{"c":"r2","i":10,"x":297,"y":63},{"c":"r2","i":11,"x":304,"y":57},{"c":"r2","i":12,"x":315,"y":55},
{"c":"r3","i":0,"x":315,"y":50},{"c":"r3","i":1,"x":329,"y":52},{"c":"r3","i":2,"x":338,"y":60},{"c":"r3","i":3,"x":342,"y":75},{"c":"r3","i":4,"x":338,"y":90},{"c":"r3","i":5,"x":329,"y":98},{"c":"r3","i":6,"x":315,"y":100},{"c":"r3","i":7,"x":301,"y":98},{"c":"r3","i":8,"x":292,"y":90},{"c":"r3","i":9,"x":288,"y":75},{"c":"r3","i":10,"x":292,"y":60},{"c":"r3","i":11,"x":301,"y":52},{"c":"r3","i":12,"x":315,"y":50}
],
"arrows":[
{"x":164.5,"y":15.5,"tx":161.4,"ty":6.8,"a":341},{"x":194.7,"y":16.3,"tx":187.9,"ty":-9.5,"a":345},{"x":193.6,"y":46.5,"tx":193.6,"ty":23.8,"a":0},{"x":195.5,"y":74.9,"tx":198.5,"ty":57.8,"a":10},{"x":195.5,"y":105,"tx":195.5,"ty":98.7,"a":0},{"x":223,"y":16.3,"tx":214.4,"ty":-31,"a":350},{"x":223,"y":46.5,"tx":223,"ty":4.9,"a":0},{"x":225,"y":74.9,"tx":225,"ty":40.8,"a":0},{"x":225,"y":106,"tx":225,"ty":90,"a":0},{"x":255,"y":14.4,"tx":247.6,"ty":-47,"a":353},{"x":255,"y":44.6,"tx":253.3,"ty":-4.5,"a":358},{"x":255,"y":74.9,"tx":256,"ty":33,"a":1},{"x":255,"y":106,"tx":257,"ty":83.6,"a":5},{"x":284.7,"y":16.3,"tx":290.4,"ty":-47,"a":5},{"x":285.4,"y":44.6,"tx":291,"ty":-6.4,"a":6},{"x":285.4,"y":74.9,"tx":294.9,"ty":33.3,"a":13},{"x":284.7,"y":105,"tx":291,"ty":78.6,"a":14},{"x":284.3,"y":133.5,"tx":284.3,"ty":125.9,"a":0},{"x":315.7,"y":16.3,"tx":322,"ty":-36.7,"a":7},{"x":315.7,"y":46.5,"tx":319.5,"ty":3,"a":5},{"x":315,"y":76.8,"tx":317.7,"ty":33.3,"a":3.5},{"x":315,"y":105,"tx":312.7,"ty":80.5,"a":355},{"x":314,"y":135.3,"tx":310.4,"ty":122,"a":345},{"x":345,"y":16.3,"tx":351.6,"ty":-22.3,"a":10},{"x":345,"y":44.6,"tx":349,"ty":14.4,"a":7},{"x":345,"y":74.9,"tx":344,"ty":50.3,"a":357},{"x":344,"y":104,"tx":341,"ty":86,"a":350},{"x":344,"y":135.3,"tx":341,"ty":124,"a":345},{"x":375,"y":15.5,"tx":381,"ty":-9.5,"a":14},{"x":375,"y":44.6,"tx":380,"ty":23.8,"a":13},{"x":375,"y":74.9,"tx":378,"ty":59,"a":11},{"x":375,"y":105,"tx":375,"ty":93.8,"a":0},{"x":405.3,"y":15.5,"tx":409.5,"ty":0.4,"a":15},{"x":405.3,"y":44.6,"tx":409.5,"ty":32,"a":18},{"x":406.4,"y":74.9,"tx":409.5,"ty":65.4,"a":18},{"x":406.4,"y":104,"tx":408.3,"ty":97.5,"a":15},{"x":435,"y":15.5,"tx":438.8,"ty":5,"a":20},{"x":435.7,"y":44.6,"tx":437,"ty":35.9,"a":7},
{"x":107,"y":16,"tx":107,"ty":16,"a":315},{"x":135,"y":16,"tx":135,"ty":16,"a":300},{"x":135,"y":46.5,"tx":135,"ty":46.5,"a":330},{"x":164.5,"y":43,"tx":164.5,"ty":43,"a":345},{"x":136,"y":77,"tx":136,"ty":77,"a":340},{"x":164.5,"y":74,"tx":164.5,"ty":74,"a":350},{"x":166,"y":108,"tx":166,"ty":108,"a":345},{"x":197.7,"y":138,"tx":197.7,"ty":138,"a":340},{"x":226,"y":137,"tx":226,"ty":137,"a":330},{"x":255,"y":135,"tx":255,"ty":135,"a":345},{"x":227,"y":168,"tx":227,"ty":168,"a":315},{"x":256,"y":167,"tx":256,"ty":167,"a":320},{"x":284,"y":166,"tx":284,"ty":166,"a":340},{"x":315,"y":164.5,"tx":315,"ty":164.5,"a":330},
{"x":137,"y":198,"tx":137,"ty":198,"a":300},{"x":167,"y":198,"tx":167,"ty":198,"a":300},{"x":196.6,"y":197,"tx":196.6,"ty":197,"a":300},{"x":225,"y":196,"tx":225,"ty":196,"a":300},{"x":256,"y":198,"tx":256,"ty":198,"a":350},{"x":283.6,"y":198,"tx":283.6,"ty":198,"a":60},{"x":314,"y":198,"tx":314,"ty":198,"a":60},{"x":137,"y":228,"tx":137,"ty":228,"a":315},{"x":227,"y":228,"tx":227,"ty":228,"a":300},{"x":252.5,"y":228,"tx":252.5,"ty":228,"a":30},{"x":283.6,"y":228,"tx":283.6,"ty":228,"a":45},{"x":315,"y":227,"tx":315,"ty":227,"a":0},
{"x":465,"y":12.5,"tx":465,"ty":12.5,"a":0},{"x":494.5,"y":15.5,"tx":494.5,"ty":15.5,"a":0},{"x":525,"y":17,"tx":525,"ty":17,"a":0},{"x":556,"y":18,"tx":556,"ty":18,"a":340},{"x":465,"y":42.7,"tx":465,"ty":42.7,"a":0},{"x":494.5,"y":44.6,"tx":494.5,"ty":44.6,"a":0},{"x":525,"y":46.5,"tx":525,"ty":46.5,"a":0},{"x":555.7,"y":48.4,"tx":555.7,"ty":48.4,"a":0},{"x":435.6,"y":72,"tx":435.6,"ty":72,"a":0},{"x":465,"y":73,"tx":465,"ty":73,"a":0},{"x":494.5,"y":75,"tx":494.5,"ty":75,"a":0},{"x":525,"y":76.7,"tx":525,"ty":76.7,"a":0},{"x":554,"y":78.3,"tx":554,"ty":78.3,"a":10},{"x":435.6,"y":101,"tx":435.6,"ty":101,"a":0},{"x":465,"y":102.5,"tx":465,"ty":102.5,"a":0},{"x":495,"y":105,"tx":495,"ty":105,"a":0},{"x":525,"y":107,"tx":525,"ty":107,"a":0},{"x":553,"y":108,"tx":553,"ty":108,"a":15},{"x":583,"y":107.8,"tx":583,"ty":107.8,"a":45},
{"x":375,"y":132.7,"tx":375,"ty":132.7,"a":345},{"x":405,"y":134,"tx":405,"ty":134,"a":10},{"x":435,"y":133.5,"tx":435,"ty":133.5,"a":0},{"x":465,"y":134,"tx":465,"ty":134,"a":0},{"x":495,"y":135.4,"tx":495,"ty":135.4,"a":0},{"x":525,"y":136.5,"tx":525,"ty":136.5,"a":0},{"x":554,"y":137,"tx":554,"ty":137,"a":10},{"x":583,"y":137,"tx":583,"ty":137,"a":30},
{"x":345,"y":165.6,"tx":345,"ty":165.6,"a":340},{"x":375,"y":167.5,"tx":375,"ty":167.5,"a":350},{"x":403,"y":167.5,"tx":403,"ty":167.5,"a":30},{"x":433.6,"y":167.5,"tx":433.6,"ty":167.5,"a":30},{"x":465,"y":166.7,"tx":465,"ty":166.7,"a":0},{"x":494.5,"y":166.7,"tx":494.5,"ty":166.7,"a":0},{"x":525,"y":167.5,"tx":525,"ty":167.5,"a":10},{"x":553.2,"y":168,"tx":553.2,"ty":168,"a":30},{"x":583,"y":167.5,"tx":583,"ty":167.5,"a":30},
{"x":343,"y":198.5,"tx":343,"ty":198.5,"a":30},{"x":433,"y":198,"tx":433,"ty":198,"a":50},{"x":464,"y":198.5,"tx":464,"ty":198.5,"a":10},{"x":494.5,"y":198,"tx":494.5,"ty":198,"a":0},{"x":523,"y":198.5,"tx":523,"ty":198.5,"a":15},{"x":345,"y":227,"tx":345,"ty":227,"a":345},{"x":376,"y":228,"tx":376,"ty":228,"a":315},{"x":406,"y":228,"tx":406,"ty":228,"a":320},{"x":436.7,"y":228,"tx":436.7,"ty":228,"a":340},{"x":467,"y":228,"tx":467,"ty":228,"a":310}
],
"labA":[{"t":"60","x":306,"y":5,"a":-45},{"t":"50","x":291,"y":48,"a":-45},{"t":"40","x":328,"y":39,"a":-50},{"t":"30","x":319.5,"y":90,"a":-45},{"t":"20","x":297,"y":120,"a":-5},{"t":"10","x":272,"y":130,"a":-15},{"t":"10","x":420,"y":61.6,"a":-65},{"t":"5","x":429.6,"y":133.5,"a":0}],
"labB":[{"t":"2.5","x":333.5,"y":38.4,"a":-3},{"t":"1.5","x":305.7,"y":56.7,"a":10},{"t":"2","x":334.2,"y":52.9,"a":20},{"t":"2.5","x":393.2,"y":77.6,"a":-25},{"t":"1.5","x":417.9,"y":29.3,"a":0},{"t":"1.5","x":556,"y":73.8,"a":45},{"t":"2","x":536.5,"y":105.3,"a":80},{"t":"2","x":534,"y":140,"a":40},{"t":"1","x":539.5,"y":5.3,"a":90},{"t":"1.5","x":399,"y":149,"a":-5},{"t":"2.5","x":316.3,"y":162,"a":0},{"t":"2","x":212.5,"y":186,"a":0},{"t":"1.5","x":192.8,"y":183,"a":0},{"t":"2","x":296.2,"y":202.3,"a":0},{"t":"1","x":295,"y":216.5,"a":0}],
"star":[{"x":315,"y":75}],
"notesA":[{"t":"NE","x":16,"y":-19},{"t":"SW","x":583,"y":-19}],
"letterA":[{"t":"a","x":-51,"y":-23.5}],
"letterB":[{"t":"b","x":-51,"y":-6.5}],
"barA":[{"v":0},{"v":2},{"v":4},{"v":6},{"v":8},{"v":10},{"v":12},{"v":14},{"v":16},{"v":18},{"v":20},{"v":22},{"v":24},{"v":26},{"v":28},{"v":30},{"v":32},{"v":34},{"v":36},{"v":38},{"v":40},{"v":42},{"v":44},{"v":46},{"v":48},{"v":50},{"v":52},{"v":54},{"v":56},{"v":58},{"v":60},{"v":62},{"v":64},{"v":66},{"v":68}],
"barB":[{"v":0},{"v":0.1},{"v":0.2},{"v":0.3},{"v":0.4},{"v":0.5},{"v":0.6},{"v":0.7},{"v":0.8},{"v":0.9},{"v":1},{"v":1.1},{"v":1.2},{"v":1.3},{"v":1.4},{"v":1.5},{"v":1.6},{"v":1.7},{"v":1.8},{"v":1.9},{"v":2},{"v":2.1},{"v":2.2},{"v":2.3},{"v":2.4},{"v":2.5},{"v":2.6},{"v":2.7},{"v":2.8},{"v":2.9},{"v":3},{"v":3.1},{"v":3.2},{"v":3.3},{"v":3.4},{"v":3.5},{"v":3.6},{"v":3.7}]
},
"concat":[
{"width":528,"height":211,"resolve":{"axis":{"x":"independent","y":"independent"}},
"encoding":{"x":{"type":"quantitative","scale":{"domain":[0,600],"nice":false,"zero":false}},"y":{"type":"quantitative","scale":{"domain":[0,240],"reverse":true,"nice":false,"zero":false}},"color":{"field":"v","type":"quantitative","legend":null,"scale":{"interpolate":"rgb","domain":[0,16,28,41,54,68],"range":["#ffffff","#ffff00","#ff9000","#ff0000","#7a0000","#000000"]}}},
"layer":[
{"data":{"name":"slip"},"mark":{"type":"rect","width":13.6,"height":13.6,"clip":true},"encoding":{"x":{"field":"x","axis":{"values":[0,60,120,180,240,300,360,420,480,540,600],"title":null,"orient":"bottom"}},"y":{"field":"y","axis":{"values":[0,30,60,90,120,150,180,210,240],"title":"Position along dip, km","orient":"left","titlePadding":7}}}},
{"data":{"name":"slip"},"mark":{"type":"rect","width":20,"height":20,"opacity":0.5,"clip":true},"encoding":{"x":{"field":"x","axis":null},"y":{"field":"y","axis":null}}},
{"data":{"name":"slip"},"mark":{"type":"rect","width":26,"height":26,"opacity":0.25,"clip":true},"encoding":{"x":{"field":"x","axis":null},"y":{"field":"y","axis":null}}},
{"data":{"name":"lineA"},"mark":{"type":"line","stroke":"#000","strokeWidth":1.4,"interpolate":"monotone","clip":true},"encoding":{"color":{"value":"#000"},"x":{"field":"x","axis":null},"y":{"field":"y","axis":null},"detail":{"field":"c"},"order":{"field":"i"}}},
{"data":{"name":"arrows"},"mark":{"type":"rule","stroke":"#000","strokeWidth":1.4},"encoding":{"color":{"value":"#000"},"x":{"field":"x","axis":null},"y":{"field":"y","axis":null},"x2":{"field":"tx"},"y2":{"field":"ty"}}},
{"data":{"name":"arrows"},"mark":{"type":"point","filled":true,"opacity":1,"size":70,"shape":"M0,-1L0.6,0.7L0,0.35L-0.6,0.7Z"},"encoding":{"color":{"value":"#000"},"x":{"field":"tx","axis":null},"y":{"field":"ty","axis":null},"angle":{"field":"a","type":"quantitative","scale":null}}},
{"data":{"name":"labA"},"mark":{"type":"point","filled":true,"opacity":1,"size":400},"encoding":{"color":{"value":"#fff"},"x":{"field":"x","axis":null},"y":{"field":"y","axis":null},"angle":{"field":"a","type":"quantitative","scale":null},"shape":{"field":"t","type":"nominal","legend":null,"scale":{"domain":["5","10","20","30","40","50","60"],"range":["M-0.5,-0.6H0.5V0.6H-0.5Z","M-0.85,-0.6H0.85V0.6H-0.85Z","M-0.85,-0.6H0.85V0.6H-0.85Z","M-0.85,-0.6H0.85V0.6H-0.85Z","M-0.85,-0.6H0.85V0.6H-0.85Z","M-0.85,-0.6H0.85V0.6H-0.85Z","M-0.85,-0.6H0.85V0.6H-0.85Z"]}}}},
{"data":{"name":"labA"},"mark":{"type":"text","fontSize":12.5,"baseline":"middle","align":"center"},"encoding":{"color":{"value":"#000"},"x":{"field":"x","axis":null},"y":{"field":"y","axis":null},"text":{"field":"t"},"angle":{"field":"a","type":"quantitative","scale":null}}},
{"data":{"name":"star"},"mark":{"type":"point","filled":true,"stroke":"#000","strokeWidth":0.7,"opacity":1,"size":210,"shape":"M0,-1L0.235,-0.324L0.951,-0.309L0.38,0.124L0.588,0.809L0,0.4L-0.588,0.809L-0.38,0.124L-0.951,-0.309L-0.235,-0.324Z"},"encoding":{"color":{"value":"#ffff00"},"x":{"field":"x","axis":{"values":[0,60,120,180,240,300,360,420,480,540,600],"orient":"top","labels":false,"title":null}},"y":{"field":"y","axis":{"values":[0,30,60,90,120,150,180,210,240],"orient":"right","labels":false,"title":null}}}},
{"data":{"name":"notesA"},"mark":{"type":"text","font":"Liberation Serif","fontSize":17,"baseline":"middle","align":"center"},"encoding":{"color":{"value":"#000"},"x":{"field":"x","axis":null},"y":{"field":"y","axis":null},"text":{"field":"t"}}},
{"data":{"name":"letterA"},"mark":{"type":"text","fontWeight":"bold","fontSize":14,"baseline":"middle","align":"center"},"encoding":{"color":{"value":"#000"},"x":{"field":"x","axis":null},"y":{"field":"y","axis":null},"text":{"field":"t"}}}
]},
{"width":9.3,"height":211,"encoding":{"x":{"type":"quantitative","axis":null,"scale":{"domain":[0,1],"nice":false,"zero":false}},"y":{"type":"quantitative","axis":null,"scale":{"domain":[-6.86,102.3],"nice":false,"zero":false}}},
"layer":[
{"data":{"name":"barA"},"mark":{"type":"rect","height":4.2},"encoding":{"x":{"datum":0},"x2":{"datum":1},"y":{"field":"v","axis":{"values":[0,10,20,30,40,50,60],"title":null,"orient":"right","domain":false,"tickSize":4,"labelPadding":2,"labelFontSize":13,"offset":0}},"color":{"field":"v","type":"quantitative","legend":null,"scale":{"interpolate":"rgb","domain":[0,16,28,41,54,68],"range":["#ffffff","#ffff00","#ff9000","#ff0000","#7a0000","#000000"]}}}},
{"data":{"values":[{"a":0,"b":67.5}]},"mark":{"type":"rect","filled":false,"stroke":"#000","strokeWidth":2},"encoding":{"x":{"datum":0},"x2":{"datum":1},"y":{"field":"a"},"y2":{"field":"b"}}},
{"data":{"values":[{"v":70.6}]},"mark":{"type":"point","filled":true,"fill":"#000","opacity":1,"size":144,"shape":"M-1,0.5L0,-0.5L1,0.5Z"},"encoding":{"x":{"datum":0.5},"y":{"field":"v"}}},
{"data":{"values":[{"v":-2.6}]},"mark":{"type":"point","filled":true,"fill":"#fff","stroke":"#000","strokeWidth":1.5,"opacity":1,"size":100,"shape":"M-1,-0.5L0,0.5L1,-0.5Z"},"encoding":{"x":{"datum":0.5},"y":{"field":"v"}}},
{"data":{"values":[{"t":"slip(m)","v":74.2}]},"mark":{"type":"text","fontSize":12.5,"baseline":"middle","align":"center","color":"#000"},"encoding":{"x":{"datum":0.5},"y":{"field":"v"},"text":{"field":"t"}}}
]},
{"width":528,"height":211,"resolve":{"axis":{"x":"independent","y":"independent"}},
"encoding":{"x":{"type":"quantitative","scale":{"domain":[0,600],"nice":false,"zero":false}},"y":{"type":"quantitative","scale":{"domain":[0,240],"reverse":true,"nice":false,"zero":false}},"color":{"field":"v","type":"quantitative","legend":null,"scale":{"interpolate":"rgb","domain":[0,0.85,1.55,2.3,3,3.65],"range":["#ffffff","#ffff00","#ff9000","#ff0000","#7a0000","#000000"]}}},
"layer":[
{"data":{"name":"vr"},"mark":{"type":"rect","width":13.6,"height":13.6,"clip":true},"encoding":{"x":{"field":"x","axis":{"values":[0,60,120,180,240,300,360,420,480,540,600],"title":"Position along strike, km","orient":"bottom","titlePadding":8}},"y":{"field":"y","axis":{"values":[0,30,60,90,120,150,180,210,240],"title":"Position along dip, km","orient":"left","titlePadding":7}}}},
{"data":{"name":"vr"},"mark":{"type":"rect","width":20,"height":20,"opacity":0.5,"clip":true},"encoding":{"x":{"field":"x","axis":null},"y":{"field":"y","axis":null}}},
{"data":{"name":"vr"},"mark":{"type":"rect","width":26,"height":26,"opacity":0.25,"clip":true},"encoding":{"x":{"field":"x","axis":null},"y":{"field":"y","axis":null}}},
{"data":{"name":"lineB"},"mark":{"type":"line","stroke":"#000","strokeWidth":1.2,"interpolate":"monotone","clip":true},"encoding":{"color":{"value":"#000"},"x":{"field":"x","axis":null},"y":{"field":"y","axis":null},"detail":{"field":"c"},"order":{"field":"i"}}},
{"data":{"name":"labB"},"mark":{"type":"point","filled":true,"opacity":1,"size":400},"encoding":{"color":{"value":"#fff"},"x":{"field":"x","axis":null},"y":{"field":"y","axis":null},"angle":{"field":"a","type":"quantitative","scale":null},"shape":{"field":"t","type":"nominal","legend":null,"scale":{"domain":["1","2","1.5","2.5"],"range":["M-0.5,-0.6H0.5V0.6H-0.5Z","M-0.5,-0.6H0.5V0.6H-0.5Z","M-1,-0.6H1V0.6H-1Z","M-1,-0.6H1V0.6H-1Z"]}}}},
{"data":{"name":"labB"},"mark":{"type":"text","fontSize":12.5,"baseline":"middle","align":"center"},"encoding":{"color":{"value":"#000"},"x":{"field":"x","axis":null},"y":{"field":"y","axis":null},"text":{"field":"t"},"angle":{"field":"a","type":"quantitative","scale":null}}},
{"data":{"name":"star"},"mark":{"type":"point","filled":true,"stroke":"#000","strokeWidth":0.8,"opacity":1,"size":210,"shape":"M0,-1L0.235,-0.324L0.951,-0.309L0.38,0.124L0.588,0.809L0,0.4L-0.588,0.809L-0.38,0.124L-0.951,-0.309L-0.235,-0.324Z"},"encoding":{"color":{"value":"#ffff00"},"x":{"field":"x","axis":{"values":[0,60,120,180,240,300,360,420,480,540,600],"orient":"top","labels":false,"title":null}},"y":{"field":"y","axis":{"values":[0,30,60,90,120,150,180,210,240],"orient":"right","labels":false,"title":null}}}},
{"data":{"name":"letterB"},"mark":{"type":"text","fontWeight":"bold","fontSize":14,"baseline":"middle","align":"center"},"encoding":{"color":{"value":"#000"},"x":{"field":"x","axis":null},"y":{"field":"y","axis":null},"text":{"field":"t"}}}
]},
{"width":9.3,"height":211,"encoding":{"x":{"type":"quantitative","axis":null,"scale":{"domain":[0,1],"nice":false,"zero":false}},"y":{"type":"quantitative","axis":null,"scale":{"domain":[-0.355,5.57],"nice":false,"zero":false}}},
"layer":[
{"data":{"name":"barB"},"mark":{"type":"rect","height":4.2},"encoding":{"x":{"datum":0},"x2":{"datum":1},"y":{"field":"v","axis":{"values":[0,1,2,3],"title":null,"orient":"right","domain":false,"tickSize":4,"labelPadding":2,"labelFontSize":13}},"color":{"field":"v","type":"quantitative","legend":null,"scale":{"interpolate":"rgb","domain":[0,0.85,1.55,2.3,3,3.65],"range":["#ffffff","#ffff00","#ff9000","#ff0000","#7a0000","#000000"]}}}},
{"data":{"values":[{"a":0,"b":3.7}]},"mark":{"type":"rect","filled":false,"stroke":"#000","strokeWidth":2},"encoding":{"x":{"datum":0},"x2":{"datum":1},"y":{"field":"a"},"y2":{"field":"b"}}},
{"data":{"values":[{"v":3.86}]},"mark":{"type":"point","filled":true,"fill":"#000","opacity":1,"size":144,"shape":"M-1,0.5L0,-0.5L1,0.5Z"},"encoding":{"x":{"datum":0.5},"y":{"field":"v"}}},
{"data":{"values":[{"v":-0.14}]},"mark":{"type":"point","filled":true,"fill":"#fff","stroke":"#000","strokeWidth":1.5,"opacity":1,"size":100,"shape":"M-1,-0.5L0,0.5L1,-0.5Z"},"encoding":{"x":{"datum":0.5},"y":{"field":"v"}}},
{"data":{"values":[{"t":"Vr(km/s)","v":4.06}]},"mark":{"type":"text","fontSize":12.5,"baseline":"middle","align":"center","color":"#000"},"encoding":{"x":{"datum":0.5},"y":{"field":"v"},"text":{"field":"t"}}}
]}
]}
